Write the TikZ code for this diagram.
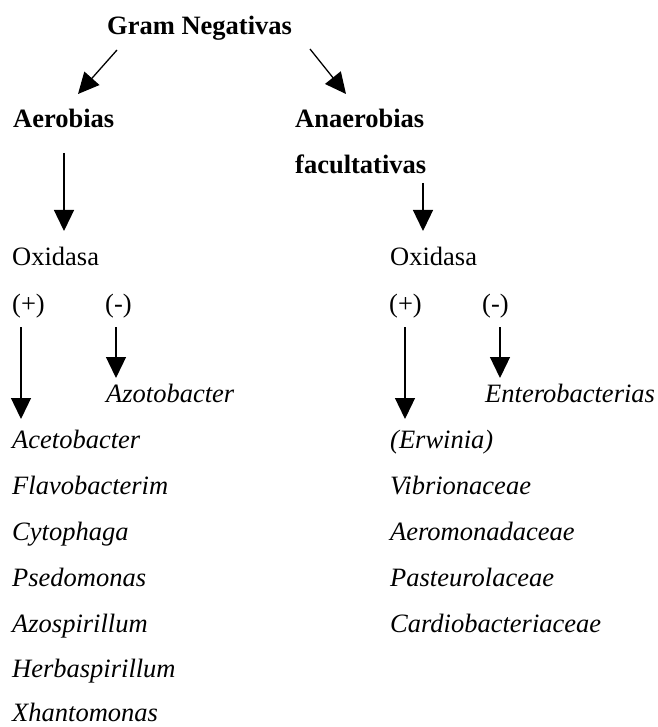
\documentclass[tikz,border=0pt]{standalone}
\usepackage{fontspec}
\setmainfont{Liberation Serif}
\usetikzlibrary{arrows.meta}
\begin{document}
\begin{tikzpicture}[x=1pt,y=-1pt,
  lbl/.style={anchor=base west,inner sep=0pt,font=\fontsize{26.5}{30}\selectfont},
  blbl/.style={lbl,font=\fontsize{26.5}{30}\selectfont\bfseries},
  ilbl/.style={lbl,font=\fontsize{26.5}{30}\selectfont\itshape},
  arr/.style={line width=1.3pt,-{Triangle[width=20pt,length=21pt]}}]
\useasboundingbox (0,0) rectangle (657,727);
% headings
\node[blbl] (gram) at (107,35) {Gram Negativas};
\node[blbl] (aer) at (13,128) {Aerobias};
\node[blbl] (ana) at (295,128) {Anaerobias};
\node[blbl] (fac) at (295,174) {facultativas};
% oxidasa
\node[lbl] (oxl) at (12,265) {Oxidasa};
\node[lbl] (oxr) at (390,265) {Oxidasa};
\node[lbl] (pl) at (12,312) {(+)};
\node[lbl] (ml) at (105,312) {(-)};
\node[lbl] (pr) at (389,312) {(+)};
\node[lbl] (mr) at (482,312) {(-)};
% results
\node[ilbl] (azo) at (106,402) {Azotobacter};
\node[ilbl] (ent) at (485,402) {Enterobacterias};
\node[ilbl] (l1) at (12,448) {Acetobacter};
\node[ilbl] (l2) at (12,494) {Flavobacterim};
\node[ilbl] (l3) at (12,540) {Cytophaga};
\node[ilbl] (l4) at (12,586) {Psedomonas};
\node[ilbl] (l5) at (12,632) {Azospirillum};
\node[ilbl] (l6) at (12,677) {Herbaspirillum};
\node[ilbl] (l7) at (12,721) {Xhantomonas};
\node[ilbl] (r1) at (390,448) {(Erwinia)};
\node[ilbl] (r2) at (390,494) {Vibrionaceae};
\node[ilbl] (r3) at (390,540) {Aeromonadaceae};
\node[ilbl] (r4) at (390,586) {Pasteurolaceae};
\node[ilbl] (r5) at (390,632) {Cardiobacteriaceae};
% arrow endpoints
\coordinate (g1) at (117,50);  \coordinate (e1) at (78,94);
\coordinate (g2) at (310,49);  \coordinate (e2) at (346,94);
\coordinate (a1) at (64,153);  \coordinate (a2) at (64,231);
\coordinate (f1) at (423,183); \coordinate (f2) at (423,231);
\coordinate (p1) at (21,327);  \coordinate (p2) at (21,419);
\coordinate (m1) at (116,327); \coordinate (m2) at (116,378);
\coordinate (q1) at (405,327); \coordinate (q2) at (405,419);
\coordinate (n1) at (500,327); \coordinate (n2) at (500,378);
\draw[arr] (g1) -- (e1);
\draw[arr] (g2) -- (e2);
\draw[arr] (a1) -- (a2);
\draw[arr] (f1) -- (f2);
\draw[arr] (p1) -- (p2);
\draw[arr] (m1) -- (m2);
\draw[arr] (q1) -- (q2);
\draw[arr] (n1) -- (n2);
\end{tikzpicture}
\end{document}
